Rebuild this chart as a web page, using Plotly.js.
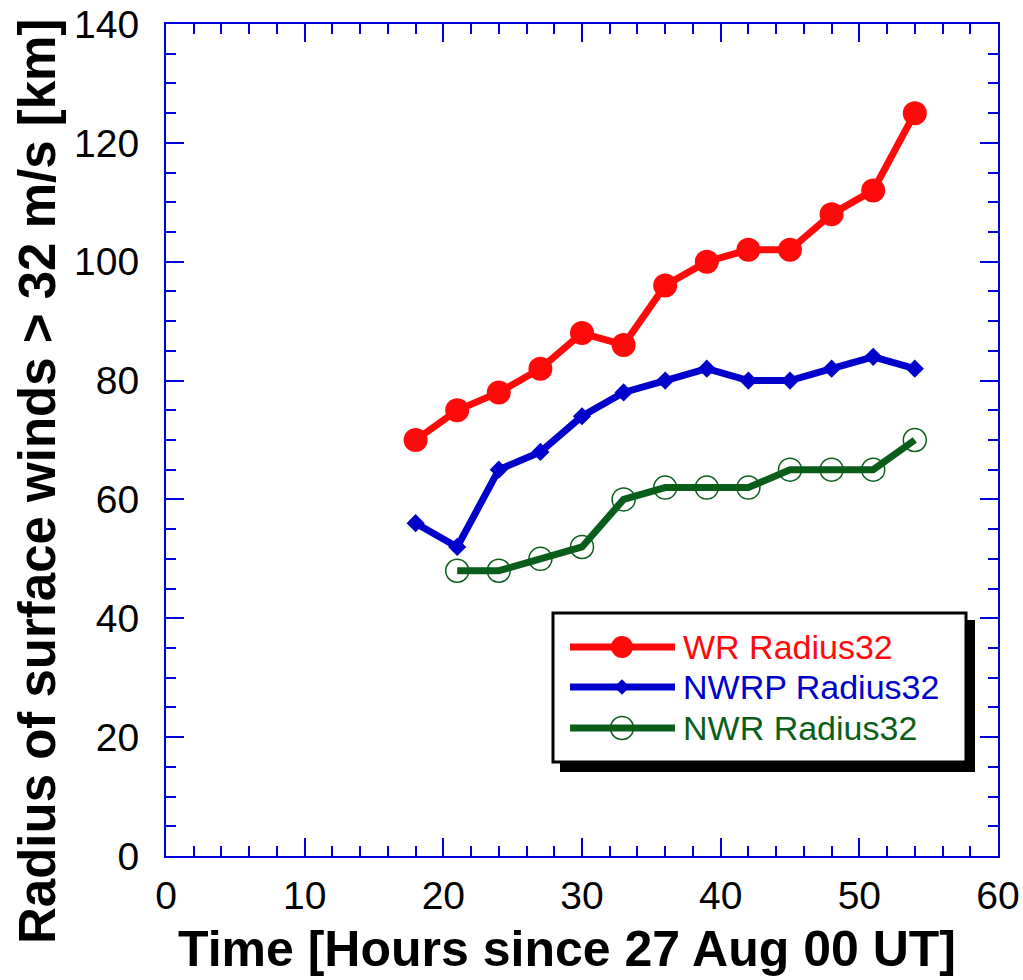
<!DOCTYPE html>
<html>
<head>
<meta charset="utf-8">
<script src="https://cdn.plot.ly/plotly-3.0.1.min.js"></script>
<style>html,body{margin:0;padding:0;background:#fff;}#chart{width:1023px;height:980px;}</style>
</head>
<body>
<div id="chart"></div>
<script>
// ---- data ----
var hours = [18, 21, 24, 27, 30, 33, 36, 39, 42, 45, 48, 51, 54];
var wrRadius32 = [70, 75, 78, 82, 88, 86, 96, 100, 102, 102, 108, 112, 125];
var nwrpRadius32 = [56, 52, 65, 68, 74, 78, 80, 82, 80, 80, 82, 84, 82];
var nwrHours = [21, 24, 27, 30, 33, 36, 39, 42, 45, 48, 51, 54];
var nwrRadius32 = [48, 48, 50, 52, 60, 62, 62, 62, 65, 65, 65, 70];
var seriesNames = ['WR Radius32', 'NWRP Radius32', 'NWR Radius32'];
var xTitle = 'Time [Hours since 27 Aug 00 UT]';
var yTitle = 'Radius of surface winds > 32 m/s [km]';

// ---- style ----
var RED = '#ff0a0a', BLUE = '#0000cc', GREEN = '#0a5e1a', AXC = '#0000dd';
var FONT = 'Liberation Sans, Arial, sans-serif';
var W = 1023, H = 980, L = 166, R = 25, T = 24, B = 124;
var PW = W - L - R, PH = H - T - B;
function px(x) { return (x - L) / PW; }
function py(y) { return (H - B - y) / PH; }

var traces = [
  {x: hours, y: wrRadius32, name: seriesNames[0], type: 'scatter', mode: 'lines+markers',
   line: {color: RED, width: 7}, marker: {symbol: 'circle', size: 24, color: RED}, showlegend: false},
  {x: hours, y: nwrpRadius32, name: seriesNames[1], type: 'scatter', mode: 'lines+markers',
   line: {color: BLUE, width: 7}, marker: {symbol: 'diamond', size: 14, color: BLUE}, showlegend: false},
  {x: nwrHours, y: nwrRadius32, name: seriesNames[2], type: 'scatter', mode: 'lines+markers',
   line: {color: GREEN, width: 7}, marker: {symbol: 'circle-open', size: 23, color: GREEN, line: {width: 1.5, color: GREEN}}, showlegend: false}
];

// legend sample markers (on overlay axes in plot-fraction coords)
var legRowsY = [647, 687, 728];
var legendMarkerStyles = [
  {symbol: 'circle', size: 22, color: RED},
  {symbol: 'diamond', size: 12, color: BLUE},
  {symbol: 'circle-open', size: 23, color: GREEN, line: {width: 1.5, color: GREEN}}
];
var legColors = [RED, BLUE, GREEN];
for (var i = 0; i < 3; i++) {
  traces.push({x: [px(622)], y: [py(legRowsY[i])], xaxis: 'x2', yaxis: 'y2', type: 'scatter', mode: 'markers',
    marker: legendMarkerStyles[i], showlegend: false, hoverinfo: 'skip'});
}

var shapes = [
  {type: 'rect', xref: 'paper', yref: 'paper', layer: 'below', x0: px(560), x1: px(975), y0: py(772), y1: py(620),
   fillcolor: '#000', line: {width: 0}},
  {type: 'rect', xref: 'paper', yref: 'paper', layer: 'below', x0: px(553), x1: px(966), y0: py(762), y1: py(613),
   fillcolor: '#fff', line: {color: '#000', width: 3}}
];
var annotations = [
  {text: xTitle, xref: 'paper', yref: 'paper', x: px(567), y: py(978), xanchor: 'center', yanchor: 'bottom',
   borderpad: 0, showarrow: false, font: {family: FONT, size: 50, color: '#000', weight: 'bold'}},
  {text: yTitle, xref: 'paper', yref: 'paper', x: px(38), y: py(482), xanchor: 'center', yanchor: 'middle',
   textangle: -90, showarrow: false, font: {family: FONT, size: 51, color: '#000', weight: 'bold'}}
];
for (var j = 0; j < 3; j++) {
  shapes.push({type: 'line', xref: 'paper', yref: 'paper', layer: 'below', x0: px(570), x1: px(675),
    y0: py(legRowsY[j]), y1: py(legRowsY[j]), line: {color: legColors[j], width: 7}});
  annotations.push({text: seriesNames[j], xref: 'paper', yref: 'paper', x: px(681), y: py(legRowsY[j]),
    xanchor: 'left', yanchor: 'middle', showarrow: false,
    font: {family: FONT, size: 34, color: legColors[j]}});
}

var layout = {
  width: W, height: H,
  margin: {l: L, r: R, t: T, b: B},
  paper_bgcolor: '#fff', plot_bgcolor: '#fff',
  showlegend: false,
  font: {family: FONT, color: '#000'},
  xaxis: {range: [0, 60], dtick: 10, tick0: 0, ticks: 'inside', ticklen: 18, tickwidth: 2, tickcolor: AXC,
    showline: true, linecolor: AXC, linewidth: 2, mirror: 'ticks', showgrid: false, zeroline: false,
    tickfont: {family: FONT, size: 39, color: '#000'}, ticklabelstandoff: 4,
    minor: {dtick: 2, ticks: 'inside', ticklen: 10, tickwidth: 2, tickcolor: AXC, showgrid: false}},
  yaxis: {range: [0, 140], dtick: 20, tick0: 0, ticks: 'inside', ticklen: 18, tickwidth: 2, tickcolor: AXC,
    showline: true, linecolor: AXC, linewidth: 2, mirror: 'ticks', showgrid: false, zeroline: false,
    tickfont: {family: FONT, size: 39, color: '#000'}, ticklabelstandoff: 17,
    minor: {dtick: 5, ticks: 'inside', ticklen: 10, tickwidth: 2, tickcolor: AXC, showgrid: false}},
  xaxis2: {overlaying: 'x', range: [0, 1], visible: false, fixedrange: true},
  yaxis2: {overlaying: 'y', range: [0, 1], visible: false, fixedrange: true},
  shapes: shapes,
  annotations: annotations
};

Plotly.newPlot('chart', traces, layout, {displayModeBar: false, staticPlot: true});
</script>
</body>
</html>
